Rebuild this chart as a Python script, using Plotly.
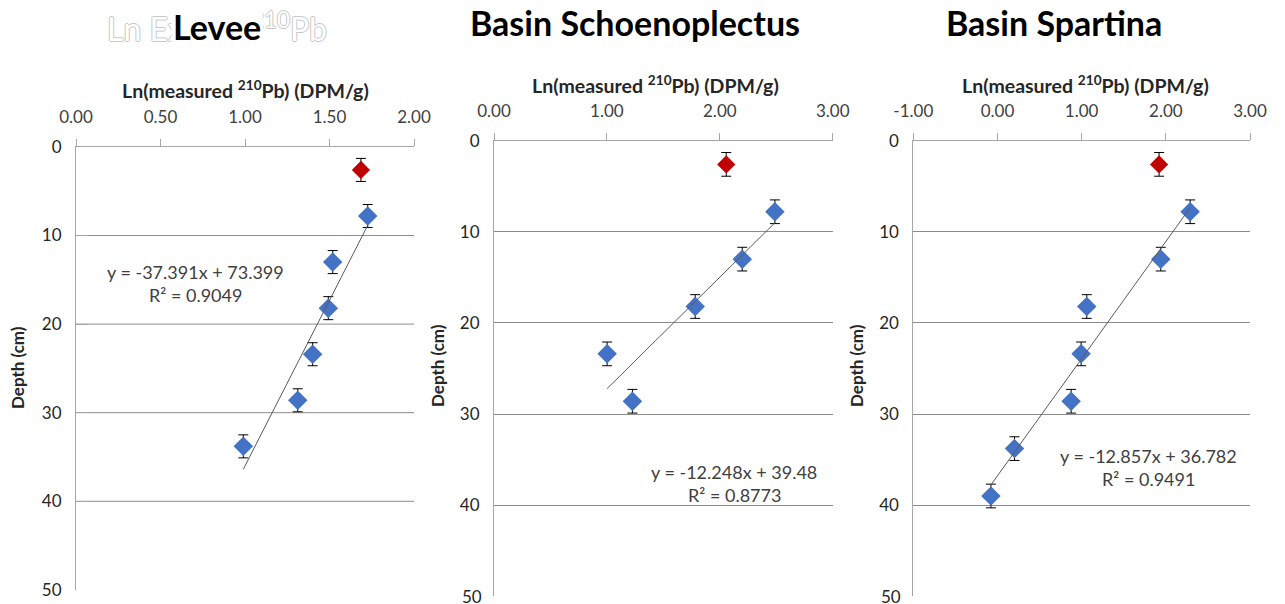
import plotly.graph_objects as go

# ---------------- data ----------------
depth = [2.6, 7.8, 13.0, 18.2, 23.4, 28.6, 33.8, 39.0]
depth_err = [1.3] * 8

levee_x = [1.686, 1.726, 1.519, 1.493, 1.400, 1.312, 0.990]
schoen_x = [2.057, 2.488, 2.199, 1.782, 1.002, 1.226]
spart_x = [1.920, 2.289, 1.940, 1.061, 0.994, 0.875, 0.202, -0.078]

titles = ["Levee", "Basin Schoenoplectus", "Basin Spartina"]
slopes = [-37.391, -12.248, -12.857]
intercepts = [73.399, 39.48, 36.782]
r2 = ["0.9049", "0.8773", "0.9491"]
x_ranges = [[0, 2], [0, 3], [-1, 3]]
x_tickvals = [[0, 0.5, 1, 1.5, 2], [0, 1, 2, 3], [-1, 0, 1, 2, 3]]
x_ticktext = [["0.00", "0.50", "1.00", "1.50", "2.00"],
              ["0.00", "1.00", "2.00", "3.00"],
              ["-1.00", "0.00", "1.00", "2.00", "3.00"]]
y_ticks = [0, 10, 20, 30, 40, 50]
y_ticktext = ["0", "10", "20", "30", "40", "50"]

# ---------------- styling ----------------
FONT = "Lato"
BLUE = "#4472C4"
RED = "#C00000"
AXIS = "#a6a6a6"
GRID = "#8c8c8c"

# page has an 8px body margin; figure sized to fill the remaining window
OFF = 8
W, H = 1285 - OFF, 604 - OFF


def fx(p):
    return (p - OFF) / W


def fy(p):
    return 1 - (p - OFF) / H


x_domains = [[fx(76), fx(414)], [fx(494), fx(832.7)], [fx(913.3), fx(1250)]]
y_domains = [[fy(589.9), fy(146.9)], [fy(596.2), fy(140.7)], [fy(596.2), fy(140.7)]]

fig = go.Figure()
series = [levee_x, schoen_x, spart_x]

for i, xs in enumerate(series):
    n = len(xs)
    xa = "x" if i == 0 else f"x{i+1}"
    ya = "y" if i == 0 else f"y{i+1}"
    d = depth[:n]
    e = depth_err[:n]
    fig.add_trace(go.Scatter(
        x=xs[:1], y=d[:1], mode="markers", xaxis=xa, yaxis=ya,
        marker=dict(symbol="diamond", size=14, color=RED),
        error_y=dict(type="data", array=e[:1], color="#000000", thickness=1, width=5),
        showlegend=False, hoverinfo="x+y"))
    fig.add_trace(go.Scatter(
        x=xs[1:], y=d[1:], mode="markers", xaxis=xa, yaxis=ya,
        marker=dict(symbol="diamond", size=15, color=BLUE),
        error_y=dict(type="data", array=e[1:], color="#000000", thickness=1, width=5),
        showlegend=False, hoverinfo="x+y"))
    bx = xs[1:]
    lx = [min(bx), max(bx)]
    ly = [slopes[i] * v + intercepts[i] for v in lx]
    fig.add_trace(go.Scatter(
        x=lx, y=ly, mode="lines", xaxis=xa, yaxis=ya,
        line=dict(color="#595959", width=1),
        showlegend=False, hoverinfo="skip"))

layout = dict(
    width=W, height=H,
    margin=dict(l=0, r=0, t=0, b=0),
    paper_bgcolor="white", plot_bgcolor="white",
    showlegend=False,
    font=dict(family=FONT, color="#404040"),
)

for i in range(3):
    sx = "" if i == 0 else str(i + 1)
    layout[f"xaxis{sx}"] = dict(
        domain=x_domains[i], range=x_ranges[i], anchor=f"y{sx}", side="top",
        tickvals=x_tickvals[i], ticktext=x_ticktext[i],
        ticks="outside", ticklen=7, tickcolor=AXIS,
        showline=True, linecolor=AXIS, linewidth=1,
        showgrid=False, zeroline=False, automargin=False,
        tickfont=dict(family=FONT, size=17, color="#404040"),
        ticklabelstandoff=9,
    )
    layout[f"yaxis{sx}"] = dict(
        domain=y_domains[i], range=[50, 0], anchor=f"x{sx}",
        tickvals=y_ticks,
        ticktext=y_ticktext if i == 0 else y_ticktext[:-1] + [""],
        showline=True, linecolor=AXIS, linewidth=1,
        showgrid=(i != 0), gridcolor=GRID, gridwidth=1,
        zeroline=False, automargin=False,
        ticks="inside" if i == 0 else "", ticklen=12, tickcolor=AXIS,
        tickfont=dict(family=FONT, size=17, color="#262626"),
        ticklabelstandoff=10,
    )

shapes = []
for v in y_ticks[1:-1]:
    shapes.append(dict(type="line", xref="x domain", yref="y", x0=0, x1=1, y0=v, y1=v,
                       line=dict(color=GRID, width=1), layer="below"))
layout["shapes"] = shapes

ann = []
ann.append(dict(text="Ln Excess <sup>210</sup>Pb", x=fx(217), y=fy(27), xref="paper", yref="paper",
                showarrow=False, xanchor="center", yanchor="middle",
                font=dict(family=FONT, size=32, color="white",
                          shadow="-1px 0 #c8c8c8, 1px 0 #c8c8c8, 0 -1px #c8c8c8, 0 1px #c8c8c8")))
title_pos = [(217, 26), (635, 22), (1054, 22)]
xt_pos = [(245, 89), (655, 84), (1085, 84)]
yt_pos = [(17, 368), (437, 366), (856, 366)]
eq_pos = [(196, 272, 295), (734, 472, 495), (1148, 456, 479)]
for i in range(3):
    sx = "" if i == 0 else str(i + 1)
    tx, ty = title_pos[i]
    ann.append(dict(text=f"<b>{titles[i]}</b>", x=fx(tx), y=fy(ty), xref="paper", yref="paper",
                    showarrow=False, xanchor="center", yanchor="middle",
                    bgcolor="white" if i == 0 else None,
                    font=dict(family=FONT, size=34, color="#000000")))
    ax, ay = xt_pos[i]
    ann.append(dict(text="<b>Ln(measured <sup>210</sup>Pb) (DPM/g)</b>", x=fx(ax), y=fy(ay),
                    xref="paper", yref="paper", showarrow=False, xanchor="center", yanchor="middle",
                    font=dict(family=FONT, size=19.5, color="#262626")))
    yx, yy = yt_pos[i]
    ann.append(dict(text="<b>Depth (cm)</b>", x=fx(yx), y=fy(yy), xref="paper", yref="paper",
                    showarrow=False, xanchor="center", yanchor="middle", textangle=-90,
                    font=dict(family=FONT, size=17, color="#262626")))
    ex, ey1, ey2 = eq_pos[i]
    ann.append(dict(text=f"y = {slopes[i]}x + {intercepts[i]}", x=fx(ex), y=fy(ey1),
                    xref="paper", yref="paper", showarrow=False, xanchor="center", yanchor="middle",
                    font=dict(family=FONT, size=18, color="#404040")))
    ann.append(dict(text=f"R² = {r2[i]}", x=fx(ex), y=fy(ey2),
                    xref="paper", yref="paper", showarrow=False, xanchor="center", yanchor="middle",
                    font=dict(family=FONT, size=18, color="#404040")))
    if i > 0:
        # bottom tick label (plotly drops it at the page edge)
        ann.append(dict(text=y_ticktext[-1], x=0, y=y_ticks[-1], xref=f"x{sx} domain", yref=f"y{sx}",
                        showarrow=False, xanchor="right", yanchor="middle", xshift=-10,
                        font=dict(family=FONT, size=17, color="#262626")))
layout["annotations"] = ann

fig.update_layout(**layout)
fig.write_html("out.html")
